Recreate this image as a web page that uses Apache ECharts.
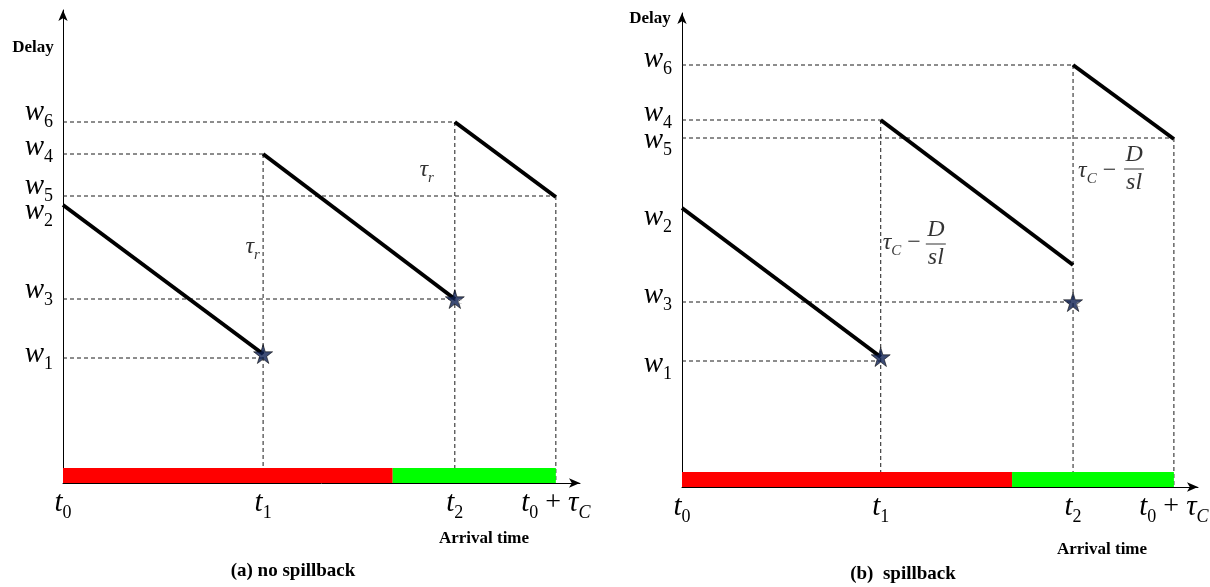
<!DOCTYPE html>
<html><head><meta charset="utf-8">
<script src="https://cdn.jsdelivr.net/npm/echarts@6/dist/echarts.min.js"></script>
<style>html,body{margin:0;padding:0;background:#fff}#c{width:1210px;height:587px}</style>
</head><body><div id="c"></div>
<script>
// ---------------- data (arrival time in % of cycle from t0; delay in arbitrary units) -------------
const timeTickLabels = ['{i|t}{s|0}', '{i|t}{s|1}', '{i|t}{s|2}', '{i|t}{s|0}{n| + }{i|τ}{si|C}'];
const delayTickNames = ['1', '2', '3', '4', '5', '6']; // w1..w6

// Panel (a) no spillback
const aTimes   = [0, 40.6, 79.5, 100];                 // t0, t1, t2, t0+τC
const aDelays  = [1.25, 2.78, 1.84, 3.29, 2.87, 3.61]; // w1..w6
const aRedEnd  = 66.9;                                 // red -> green switch
const aSegFrom = [[0, 2.78], [40.6, 3.29], [79.5, 3.61]];
const aSegTo   = [[40.6, 1.29], [79.5, 1.84], [100, 2.86]];
const aStars   = [[40.6, 1.29], [79.5, 1.84]];

// Panel (b) spillback
const bTimes   = [0, 40.4, 79.5, 100];
const bDelays  = [1.26, 2.79, 1.85, 3.67, 3.49, 4.22];
const bRedEnd  = 67.1;
const bSegFrom = [[0, 2.79], [40.4, 3.67], [79.5, 4.22]];
const bSegTo   = [[40.4, 1.30], [79.5, 2.22], [100, 3.48]];
const bStars   = [[40.4, 1.30], [79.5, 1.85]];

// ---------------- styles ----------------
const FONT = 'Liberation Serif';
const BAR_PX = 15;
// vertical nudge (px, + = down) of each w label, as placed in the original figure
const aLabelNudge = [-4, 6, -9, -7, -10, -10];
const bLabelNudge = [3, 9, -7, -7, 2, -6];

const richW = {
  i:  {fontFamily: FONT, fontStyle: 'italic', fontSize: 29, lineHeight: 38, color: '#000'},
  n:  {fontFamily: FONT, fontSize: 28, lineHeight: 38, color: '#000'},
  s:  {fontFamily: FONT, fontSize: 18, lineHeight: 18, verticalAlign: 'bottom', color: '#000'},
  si: {fontFamily: FONT, fontStyle: 'italic', fontSize: 18, lineHeight: 18, verticalAlign: 'bottom', color: '#000'}
};
for (let k = 1; k <= 40; k++) richW['g' + k] = {width: 1, height: k, lineHeight: k, fontSize: 1};

const richTau = {
  i:  {fontFamily: FONT, fontStyle: 'italic', fontSize: 24, lineHeight: 32, color: '#000'},
  n:  {fontFamily: FONT, fontSize: 24, lineHeight: 32, color: '#000'},
  si: {fontFamily: FONT, fontStyle: 'italic', fontSize: 15, lineHeight: 15, verticalAlign: 'bottom', color: '#000'}
};
const richFrac = {
  f:   {fontFamily: FONT, fontStyle: 'italic', fontSize: 24, lineHeight: 22, align: 'center', color: '#000'},
  bar: {width: 20, height: 1, lineHeight: 6, backgroundColor: '#000', align: 'center'}
};
const STAR = 'path://M50,0 L61,35 L98,35 L68,57 L79,91 L50,70 L21,91 L32,57 L2,35 L39,35 Z';

function near(arr, v) { return arr.findIndex(d => Math.abs(d - v) < 1e-6); }

function wLabel(k, nudge) {
  const core = '{i|w}{s|' + delayTickNames[k] + '}';
  const u = nudge[k];
  if (u < 0) return core + '\n{g' + (-2 * u) + '|}';
  if (u > 0) return '{g' + (2 * u) + '|}\n' + core;
  return core;
}

function axesFor(idx, T, W, ymax, nudge) {
  const line = {show: true, symbol: ['none', 'arrow'], symbolSize: [7, 11], lineStyle: {color: '#000', width: 1}};
  return {
    x: {gridIndex: idx, type: 'value', min: 0, max: 104.9, axisLine: line, axisTick: {show: false},
        splitLine: {show: false},
        axisLabel: {customValues: T, margin: 1, formatter: v => timeTickLabels[near(T, v)], rich: richW}},
    y: {gridIndex: idx, type: 'value', min: 0, max: ymax, axisLine: line, axisTick: {show: false},
        splitLine: {show: false},
        axisLabel: {customValues: W, margin: 10,
          formatter: v => wLabel(near(W, v), nudge), rich: richW}}
  };
}

function seriesFor(idx, T, W, redEnd, segFrom, segTo, stars, annots) {
  const [t0, t1, t2, tc] = T;
  const [w1, w2, w3, w4, w5, w6] = W;
  const out = [];
  // time-phase bar (red / green)
  out.push({
    type: 'custom', xAxisIndex: idx, yAxisIndex: idx, z: 1, silent: true,
    data: [[t0, redEnd, 0], [redEnd, tc, 1]],
    renderItem: (params, api) => {
      const p0 = api.coord([api.value(0), 0]);
      const p1 = api.coord([api.value(1), 0]);
      return {type: 'rect', shape: {x: p0[0], y: p0[1] - BAR_PX, width: p1[0] - p0[0], height: BAR_PX},
              style: {fill: api.value(2) === 0 ? '#ff0000' : '#00ff00'}};
    }
  });
  // dashed guides (verticals run down to the bar, which is drawn over them)
  const guides = [
    [[t0, w6], [t2, w6]], [[t0, w4], [t1, w4]], [[t0, w5], [tc, w5]],
    [[t0, w3], [t2, w3]], [[t0, w1], [t1, w1]],
    [[t1, w4], [t1, 0]], [[t2, w6], [t2, 0]], [[tc, w5], [tc, 0]]
  ];
  guides.forEach(g => out.push({
    type: 'line', xAxisIndex: idx, yAxisIndex: idx, data: g, symbol: 'none', z: 0, silent: true,
    lineStyle: {color: '#1a1a1a', width: 1, type: [4, 3]}
  }));
  // thick delay segments
  segFrom.forEach((p, k) => out.push({
    type: 'line', xAxisIndex: idx, yAxisIndex: idx, data: [p, segTo[k]], symbol: 'none', z: 3, silent: true,
    lineStyle: {color: '#000', width: 4}
  }));
  // stars
  out.push({
    type: 'scatter', xAxisIndex: idx, yAxisIndex: idx, z: 4, silent: true,
    symbol: STAR, symbolSize: 19, data: stars,
    itemStyle: {color: '#0d1f52', borderColor: '#000', borderWidth: 0.7}
  });
  // annotations
  out.push({
    type: 'scatter', xAxisIndex: idx, yAxisIndex: idx, z: 5, silent: true,
    symbolSize: 0, itemStyle: {color: 'transparent'},
    data: annots
  });
  return out;
}

const tauR = {show: true, position: 'inside', formatter: '{i|τ}{si|r}', rich: richTau};
const tauC = {show: true, position: 'inside', formatter: '{i|τ}{si|C}{n| − }', rich: richTau};
const frac = {show: true, position: 'inside', formatter: '{f|D}\n{bar|}\n{f|sl}', rich: richFrac};
const cMark = {show: true, position: 'right', offset: [-2, 2], formatter: 'c', fontSize: 10, color: '#999', fontFamily: FONT};

const aAnn = [
  {value: [38.5, 2.36], label: tauR},
  {value: [73.8, 3.13], label: tauR},
  {value: aStars[1], label: cMark}
];
const bAnn = [
  {value: [45.3, 2.44], label: tauC},
  {value: [51.6, 2.43], label: frac},
  {value: [85.0, 3.16], label: tauC},
  {value: [91.9, 3.18], label: frac},
  {value: bStars[1], label: cMark}
];

const A = axesFor(0, aTimes, aDelays, 4.73, aLabelNudge);
const B = axesFor(1, bTimes, bDelays, 4.74, bLabelNudge);

const bold = (t, x, y, size) => ({type: 'text', x, y, silent: true,
  style: {text: t, font: 'bold ' + size + 'px "' + FONT + '"', fill: '#000',
          textAlign: 'center', textVerticalAlign: 'middle', align: 'center', verticalAlign: 'middle'}});

const chart = echarts.init(document.getElementById('c'), null, {renderer: 'canvas'});
chart.setOption({
  animation: false,
  backgroundColor: '#fff',
  grid: [
    {left: 63, top: 10, width: 517, height: 473, containLabel: false, outerBoundsMode: 'none'},
    {left: 682, top: 13, width: 516, height: 474, containLabel: false, outerBoundsMode: 'none'}
  ],
  xAxis: [A.x, B.x],
  yAxis: [A.y, B.y],
  series: [
    ...seriesFor(0, aTimes, aDelays, aRedEnd, aSegFrom, aSegTo, aStars, aAnn),
    ...seriesFor(1, bTimes, bDelays, bRedEnd, bSegFrom, bSegTo, bStars, bAnn)
  ],
  graphic: [
    bold('Delay', 33, 48, 17),
    bold('Delay', 650, 19, 17),
    bold('Arrival time', 484, 539, 17),
    bold('Arrival time', 1102, 550, 17),
    bold('(a) no spillback', 293, 571, 19),
    bold('(b)  spillback', 903, 574, 19)
  ]
});
</script></body></html>
